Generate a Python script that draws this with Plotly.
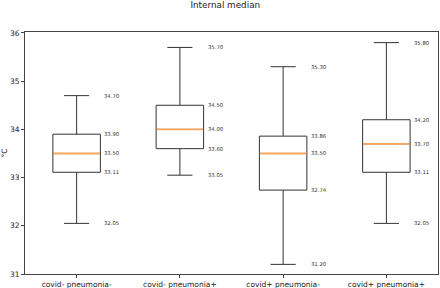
import plotly.graph_objects as go

categories = ["covid- pneumonia-", "covid- pneumonia+", "covid+ pneumonia-", "covid+ pneumonia+"]
lower = [32.05, 33.05, 31.20, 32.05]
q1 = [33.11, 33.60, 32.74, 33.11]
median = [33.50, 34.00, 33.50, 33.70]
q3 = [33.90, 34.50, 33.86, 34.20]
upper = [34.70, 35.70, 35.30, 35.80]

pos = [1, 2, 3, 4]
box_w = 0.46

fig = go.Figure()
fig.add_trace(go.Box(
    x=pos, q1=q1, median=median, q3=q3, lowerfence=lower, upperfence=upper,
    width=box_w, whiskerwidth=0.53, boxpoints=False,
    line=dict(color="#333333", width=1), fillcolor="rgba(0,0,0,0)",
    showlegend=False, hoverinfo="skip",
))
for p, m in zip(pos, median):
    fig.add_trace(go.Scatter(
        x=[p - box_w / 2 + 0.004, p + box_w / 2 - 0.004], y=[m, m], mode="lines",
        line=dict(color="#fca760", width=1.8), showlegend=False, hoverinfo="skip",
    ))

for i, p in enumerate(pos):
    for v in [lower[i], q1[i], median[i], q3[i], upper[i]]:
        fig.add_annotation(x=p + 0.25, y=v, text=f"{v:.2f}", showarrow=False,
                           xanchor="left", yanchor="middle",
                           font=dict(size=5.3, color="#333333", family="DejaVu Sans"))

fig.update_layout(
    width=440, height=288,
    margin=dict(l=25, r=2, t=32, b=14),
    paper_bgcolor="white", plot_bgcolor="white",
    font=dict(family="DejaVu Sans", color="#222222"),
    title=dict(text="Internal median", x=0.512, xanchor="center", y=0.995, yanchor="top",
               font=dict(size=8.8, color="#222222")),
    xaxis=dict(range=[0.5, 4.5], tickmode="array", tickvals=pos, ticktext=categories,
               automargin=False,
               showgrid=False, zeroline=False, showline=True, linecolor="#444444", linewidth=1,
               mirror=True, ticks="outside", ticklen=3, tickcolor="#444444",
               tickfont=dict(size=7.5, color="#222222")),
    yaxis=dict(range=[31, 36.02], tickvals=[31, 32, 33, 34, 35, 36], automargin=False,
               showgrid=False, zeroline=False, showline=True, linecolor="#444444", linewidth=1,
               mirror=True, ticks="outside", ticklen=3, tickcolor="#444444",
               tickfont=dict(size=7.5, color="#222222"),
               title=dict(text="°C", font=dict(size=7.5, color="#222222"), standoff=4)),
)

fig.write_html("out.html", config={"displayModeBar": False},
               post_script="document.body.style.margin='0';")
